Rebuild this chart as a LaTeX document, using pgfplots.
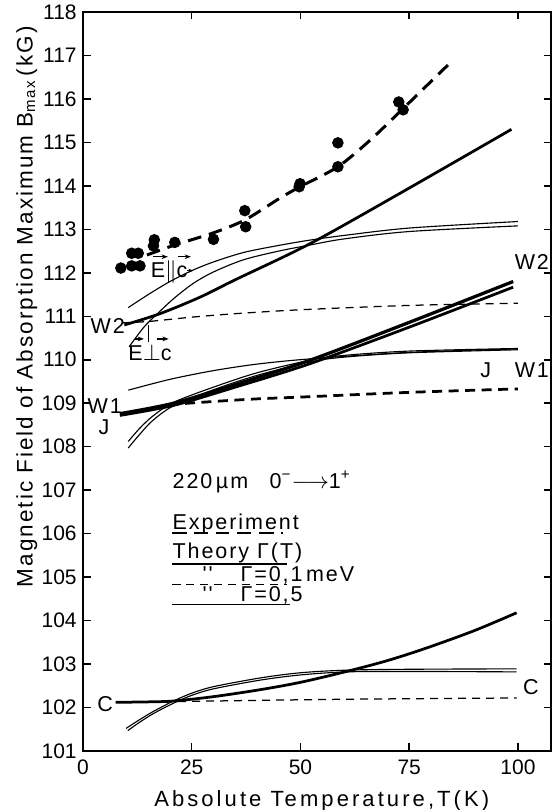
\documentclass[border=0pt]{standalone}
\usepackage{fontspec}
\setmainfont{Liberation Sans}
\newfontfamily\spaced[LetterSpace=9]{Liberation Sans}
\newfontfamily\wide[LetterSpace=14]{Liberation Sans}
\usepackage{pgfplots}
\pgfplotsset{compat=1.18}
\usetikzlibrary{calc,arrows.meta}

\begin{document}
\begin{tikzpicture}
\begin{axis}[
  scale only axis, width=187.2pt, height=295.6pt,
  xmin=0, xmax=107.6, ymin=101, ymax=118,
  xtick={0,25,50,75,100}, ytick={101,...,118},
  xtick pos=both, ytick pos=both,
  xticklabel pos=lower, yticklabel pos=left,
  tick align=inside, major tick length=3pt,
  axis line style={line width=0.8pt},
  every tick/.style={black, line width=0.6pt},
  tick label style={font=\fontsize{8.4}{9}\selectfont},
  yticklabel style={xshift=1pt},
  /pgf/number format/assume math mode=true,
  clip=false,
  thinl/.style={black, line width=0.45pt, smooth},
  thickl/.style={black, line width=1.1pt, smooth},
  thindash/.style={black, line width=0.5pt, dash pattern=on 3.2pt off 2.4pt, smooth},
  thickdash/.style={black, line width=1.1pt, dash pattern=on 4pt off 2.6pt, smooth},
  expdash/.style={black, line width=1.2pt, dash pattern=on 5.5pt off 3.2pt, smooth},
]
\coordinate (ll) at (rel axis cs:0,0);
\coordinate (ur) at (rel axis cs:1,1);

% ---- experiment
\addplot[only marks, mark=*, mark size=2.1pt, black] coordinates {
 (8.7,112.11) (11.2,112.45) (12.7,112.45) (11.2,112.16) (13.1,112.16)
 (16.4,112.76) (16.2,112.62) (21.1,112.70) (30.0,112.77)
 (37.2,113.43) (37.4,113.06) (49.7,113.98) (49.9,114.05)
 (58.6,114.99) (58.6,114.44) (72.6,115.93) (73.6,115.75)};
\addplot[expdash] coordinates {
 (14.7,112.41) (21.1,112.64) (30,112.92) (37.3,113.22) (45.3,113.72)
 (49.9,113.98) (58.6,114.44) (66,115.05) (73.3,115.75) (83.9,116.78)};

% ---- W2 group
\addplot[thickl] coordinates {
 (9.5,110.80) (17.7,111.06) (26.9,111.44) (35,111.84) (52.2,112.67)
 (72.9,113.83) (98.5,115.30)};
\addplot[thinl] coordinates {
 (10.4,111.2) (15,111.5) (20,111.8) (25,112.05) (30,112.25) (37,112.47)
 (45,112.63) (52,112.75) (60,112.86) (75,113.03) (100,113.18)};
\addplot[thinl] coordinates {
 (10.6,110.3) (14,110.75) (17,111.05) (21,111.42) (25.4,111.76) (30,112.02)
 (36.9,112.3) (45,112.5) (52.2,112.64) (60,112.78) (75,112.95) (100,113.08)};
\addplot[thindash] coordinates {
 (9,110.85) (15,110.88) (25,110.98) (35,111.06) (50,111.15) (75,111.25) (100,111.30)};

% ---- W1 group
\addplot[thickl, line width=1.3pt] coordinates {
 (8.5,108.76) (20.8,109.0) (35,109.43) (52.2,109.99) (75,110.86) (98.9,111.80)};
\addplot[thickl] coordinates {
 (8.5,108.72) (20.8,108.95) (35,109.37) (52.2,109.91) (75,110.75) (98.9,111.67)};
\addplot[thinl] coordinates {
 (10.4,109.3) (20,109.55) (30,109.75) (40,109.9) (52.2,110.02) (75,110.17) (100,110.25)};
\addplot[thinl] coordinates {
 (10.4,108.12) (13,108.42) (16,108.7) (20.8,109.02) (30,109.37) (40,109.7)
 (52.2,109.99) (60,110.1) (75,110.2) (100,110.26)};
\addplot[thinl] coordinates {
 (10.4,107.97) (13,108.28) (16,108.6) (20.8,108.94) (30,109.31) (40,109.64)
 (52.2,109.95) (60,110.06) (75,110.16) (100,110.23)};
\addplot[thickdash] coordinates {
 (8.5,108.74) (15,108.86) (20.8,108.97) (30,109.04) (40,109.1) (52,109.15)
 (75,109.25) (100,109.33)};

% ---- C group
\addplot[thickl] coordinates {
 (7.5,102.12) (15,102.13) (20.8,102.15) (30,102.25) (40.7,102.41) (50,102.58)
 (60.6,102.83) (70,103.08) (79,103.37) (90,103.77) (99.7,104.18)};
\addplot[thindash] coordinates {
 (9,102.12) (30,102.15) (60,102.19) (99.7,102.22)};
\addplot[thinl] coordinates {
 (9.9,101.52) (13,101.72) (16,101.9) (20.8,102.15) (25,102.33) (30,102.48)
 (40.7,102.68) (50,102.8) (60.6,102.86) (75,102.88) (99.7,102.89)};
\addplot[thinl] coordinates {
 (10.3,101.47) (13,101.66) (16,101.85) (20.8,102.1) (25,102.28) (30,102.43)
 (40.7,102.63) (50,102.75) (60.6,102.82) (75,102.83) (99.7,102.82)};

% ---- key
\addplot[expdash, smooth=false, line width=1pt] coordinates {(20.5,106.02) (46.0,106.02)};
\addplot[thickl, line width=0.9pt] coordinates {(20.5,105.31) (46.9,105.31)};
\addplot[thindash] coordinates {(20.5,104.83) (46.9,104.83)};
\addplot[thinl] coordinates {(20.5,104.37) (47.6,104.37)};

\begin{scope}[font=\spaced\fontsize{8.6}{9}\selectfont]
\begin{scope}[every node/.style={anchor=base west, inner sep=0pt}]
\node at (axis cs:20.5,107.03) {220\,µm\quad 0\textsuperscript{−}$\longrightarrow$1\textsuperscript{+}};
\node at (axis cs:20.5,106.1) {Experiment};
\node at (axis cs:20.5,105.42) {Theory Γ(T)};
\node at (axis cs:27.4,104.9) {''};
\node at (axis cs:36.1,104.9) {Γ=0,1\,meV};
\node at (axis cs:27.4,104.44) {''};
\node at (axis cs:36.1,104.44) {Γ=0,5};
\end{scope}

% curve labels
\node at (axis cs:5.7,110.78) {W2};
\node at (axis cs:5.0,108.93) {W1};
\node at (axis cs:4.8,108.44) {J};
\node at (axis cs:5.1,102.07) {C};
\node at (axis cs:103.2,112.25) {W2};
\node at (axis cs:103.2,109.77) {W1};
\node at (axis cs:92.6,109.77) {J};
\node at (axis cs:103.0,102.46) {C};

% polarisation notes
\node at (axis cs:19.8,112.03) {E$\parallel$c};
\draw[-{Stealth[length=2.5pt]}, line width=0.5pt] (axis cs:16.1,112.37) -- (axis cs:19.5,112.37);
\draw[-{Stealth[length=2.5pt]}, line width=0.5pt] (axis cs:21.8,112.37) -- (axis cs:24.8,112.37);
\draw[-{Stealth[length=2pt]}, line width=0.4pt] (axis cs:23.8,112.05) -- (axis cs:25.4,112.05);
\node at (axis cs:15.4,110.16) {E$\perp$c};
\draw[-{Stealth[length=2.5pt]}, line width=0.5pt] (axis cs:12.0,110.48) -- (axis cs:14.0,110.48);
\draw[-{Stealth[length=2.5pt]}, line width=0.5pt] (axis cs:16.9,110.48) -- (axis cs:19.7,110.48);
\draw[line width=0.4pt] (axis cs:15.0,110.42) -- (axis cs:15.0,110.8);
\end{scope}

% axis titles
\node[rotate=90, font=\spaced\fontsize{9}{10}\selectfont] at (axis cs:-12.9,111.22) {Magnetic Field of Absorption Maximum B\textsubscript{max}\,(kG)};
\node[font=\wide\fontsize{8.8}{10}\selectfont] at (axis cs:54.9,99.86) {Absolute Temperature,T(K)};
\end{axis}
\pgfresetboundingbox
\path ($(ll)+(-33.2pt,-23.6pt)$) rectangle ($(ur)+(0.4pt,4.8pt)$);
\end{tikzpicture}
\end{document}
